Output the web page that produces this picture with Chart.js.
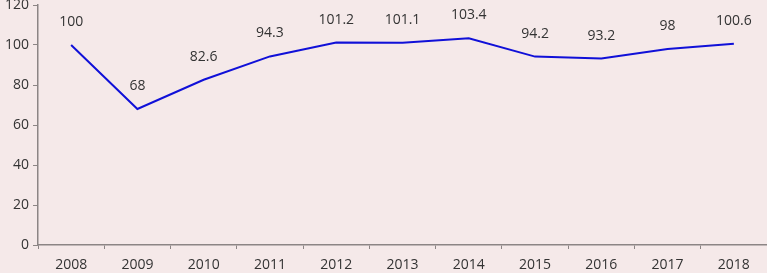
<!DOCTYPE html>
<html>
<head>
<meta charset="utf-8">
<script src="https://cdn.jsdelivr.net/npm/chart.js@4"></script>
<style>
  html, body { margin: 0; padding: 0; background: #f5e9e9; }
  #wrap { width: 767px; height: 273px; }
</style>
</head>
<body>
<div id="wrap"><canvas id="myChart" width="767" height="273"></canvas></div>
<script>
// Years and index values
const years = ['2008', '2009', '2010', '2011', '2012', '2013', '2014', '2015', '2016', '2017', '2018'];
const values = [100, 68, 82.6, 94.3, 101.2, 101.1, 103.4, 94.2, 93.2, 98, 100.6];
const yTicks = [0, 20, 40, 60, 80, 100, 120];

const axisColor = '#8c8585';
const textColor = '#333333';
const fontFamily = "'Open Sans', 'Liberation Sans', sans-serif";

// Draw the value labels above each point
const valueLabels = {
    id: 'valueLabels',
    afterDatasetsDraw(chart) {
        const ctx = chart.ctx;
        const meta = chart.getDatasetMeta(0);
        ctx.save();
        ctx.font = '14px ' + fontFamily;
        ctx.fillStyle = textColor;
        ctx.textAlign = 'center';
        ctx.textBaseline = 'middle';
        meta.data.forEach((pt, i) => {
            ctx.fillText(String(values[i]), pt.x, pt.y - 23);
        });
        ctx.restore();
    }
};

let ctx = document.getElementById('myChart').getContext('2d');
let myChart = new Chart(ctx, {
    type: 'line',
    data: {
        labels: years,
        datasets: [{
            data: values,
            borderColor: '#1010d8',
            borderWidth: 2,
            pointRadius: 0,
            fill: false,
            tension: 0
        }]
    },
    options: {
        responsive: false,
        animation: false,
        layout: { padding: { top: 5, right: 0, left: 0, bottom: 0 } },
        plugins: {
            legend: { display: false },
            tooltip: { enabled: false }
        },
        scales: {
            x: {
                offset: true,
                grid: {
                    drawOnChartArea: false,
                    offset: true,
                    color: axisColor,
                    tickLength: 4
                },
                border: { color: axisColor, width: 1.5 },
                ticks: {
                    color: textColor,
                    font: { size: 14, family: fontFamily },
                    padding: 8,
                    maxRotation: 0
                },
                afterFit: function(scale) { scale.height = 28; scale.paddingLeft = 0; scale.paddingRight = 0; }
            },
            y: {
                min: 0,
                max: 120,
                afterBuildTicks: function(scale) {
                    scale.ticks = yTicks.map(v => ({ value: v }));
                },
                grid: {
                    drawOnChartArea: false,
                    color: axisColor,
                    tickLength: 5
                },
                border: { color: axisColor, width: 1.5 },
                ticks: {
                    color: textColor,
                    font: { size: 14, family: fontFamily },
                    padding: 4
                },
                afterFit: function(scale) { scale.width = 38; scale.paddingTop = 0; scale.paddingBottom = 0; }
            }
        }
    },
    plugins: [valueLabels]
});
</script>
</body>
</html>
